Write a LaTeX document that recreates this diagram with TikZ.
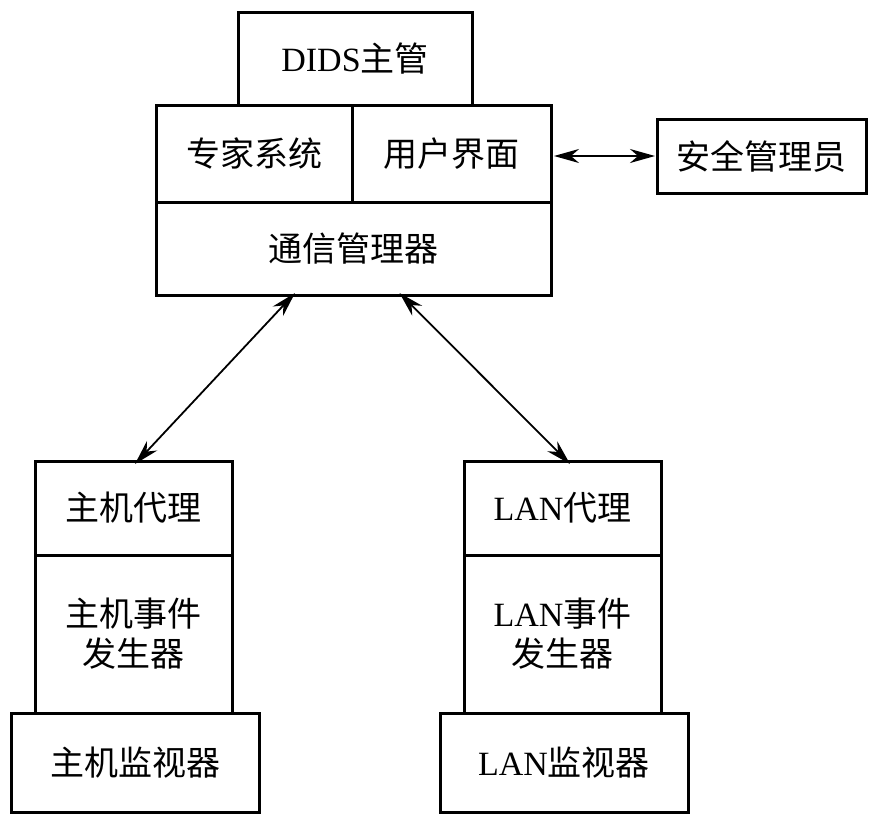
\documentclass[tikz,border=0pt]{standalone}
\usepackage{fontspec}
\setmainfont{Liberation Serif}
\newfontfamily\cjk{Noto Sans CJK SC}
\usetikzlibrary{arrows.meta}
\begin{document}
\begin{tikzpicture}[x=1pt,y=-1pt,
  box/.style={draw, line width=3pt, rectangle, inner sep=0pt, outer sep=0pt,
    font=\fontsize{34}{40}\selectfont, align=center},
  link/.style={line width=1.8pt, {Stealth[length=25pt,width=14pt,inset=8pt]}-{Stealth[length=25pt,width=14pt,inset=8pt]}}]
\useasboundingbox (0,0) rectangle (873,819);
% top cluster
\node[box, minimum width=234pt, minimum height=93pt] (dids) at (355,58.5) {DIDS{\cjk 主管}};
\node[box, minimum width=196pt, minimum height=97pt] (expert) at (254,153.5) {\cjk 专家系统};
\node[box, minimum width=199pt, minimum height=97pt] (ui) at (451.5,153.5) {\cjk 用户界面};
\node[box, minimum width=395pt, minimum height=93pt] (comm) at (353.5,248.5) {\cjk 通信管理器};
\node[box, minimum width=209pt, minimum height=74pt] (admin) at (761.5,156) {\cjk 安全管理员};
% left column
\node[box, minimum width=197pt, minimum height=94pt] (hagent) at (133.5,508) {\cjk 主机代理};
\node[box, minimum width=197pt, minimum height=158pt] (hgen) at (133.5,634) {\cjk 主机事件\\\cjk 发生器};
\node[box, minimum width=248pt, minimum height=99pt] (hmon) at (135,762.5) {\cjk 主机监视器};
% right column
\node[box, minimum width=197pt, minimum height=94pt] (lagent) at (562.5,508) {LAN{\cjk 代理}};
\node[box, minimum width=197pt, minimum height=158pt] (lgen) at (562.5,634) {LAN{\cjk 事件}\\\cjk 发生器};
\node[box, minimum width=248pt, minimum height=99pt] (lmon) at (564,762.5) {LAN{\cjk 监视器}};
% connectors
\draw[link] ([xshift=3pt]admin.west -| ui.east) -- ([xshift=-2pt]admin.west);
\draw[link] ([xshift=-58.5pt,yshift=2pt]comm.south) -- ([xshift=1.5pt,yshift=-3pt]hagent.north);
\draw[link] ([xshift=46pt,yshift=2pt]comm.south) -- ([xshift=7.5pt,yshift=-3pt]lagent.north);
\end{tikzpicture}
\end{document}
